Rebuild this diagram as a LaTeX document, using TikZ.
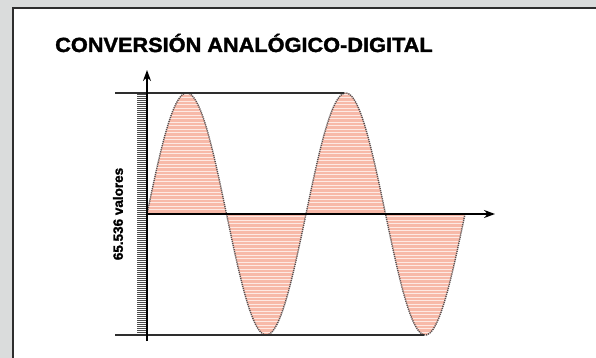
\documentclass[tikz,border=0pt]{standalone}
\usepackage{fontspec}
\setmainfont{Liberation Sans}
\newfontfamily\heavyfont[FakeBold=1.6]{Liberation Sans Bold}
\usepackage{xcolor}
\definecolor{Panel}{HTML}{DADCDC}
\definecolor{Frame}{HTML}{2E2E2E}
\definecolor{Salmon}{HTML}{F7B9A8}
\definecolor{Stripe}{HTML}{FDE9E3}
\definecolor{Wave}{HTML}{5A5050}
\usepackage{tikz}
\usetikzlibrary{arrows.meta}

\begin{document}
\begin{tikzpicture}[x=1pt,y=-1pt,
  axis/.style={line width=2.4pt,-{Stealth[length=11pt,width=8pt]}},
  limit/.style={line width=1.6pt,Frame}]
\useasboundingbox (0,0) rectangle (596,358);
\fill[Panel] (0,0) rectangle (596,358);
\draw[Frame,line width=2pt,fill=white] (13,8) rectangle (604,366);
\node[font=\heavyfont\fontsize{20.5}{22}\selectfont,anchor=base west,inner sep=0pt,xscale=1.06] (title) at (55,52) {CONVERSIÓN ANALÓGICO-DIGITAL};
% sampled wave
\fill[Salmon] plot[domain=0:318,samples=200] ({147+\x},{214-121*sin(\x/159*360)}) -- cycle;
\begin{scope}
  \clip plot[domain=0:318,samples=200] ({147+\x},{214-121*sin(\x/159*360)}) -- cycle;
  \foreach \y in {94,97.5,...,336}{\draw[Stripe,line width=0.55pt] (147,\y) -- (470,\y);}
\end{scope}
\draw[Wave,line width=1.4pt,dash pattern=on 1.2pt off 0.9pt] plot[domain=0:318,samples=200] ({147+\x},{214-121*sin(\x/159*360)});
% levels
\foreach \y in {94,96,...,334}{\draw[black!70,line width=0.55pt] (137,\y) -- (147,\y);}
\coordinate (origin) at (147,214);
\coordinate (ytop) at (147,70);
\coordinate (ybot) at (147,341);
\coordinate (xend) at (495,214);
\coordinate (hiL) at (115,93);
\coordinate (hiR) at (344,93);
\coordinate (loL) at (115,335);
\coordinate (loR) at (424,335);
\draw[limit] (hiL) -- (hiR);
\draw[limit] (loL) -- (loR);
\draw[axis] (ybot) -- (ytop);
\draw[axis] (origin) -- (xend);
\node[font=\heavyfont\fontsize{13.5}{15}\selectfont,rotate=90] (levels) at (118,214) {65.536 valores};
\end{tikzpicture}
\end{document}
